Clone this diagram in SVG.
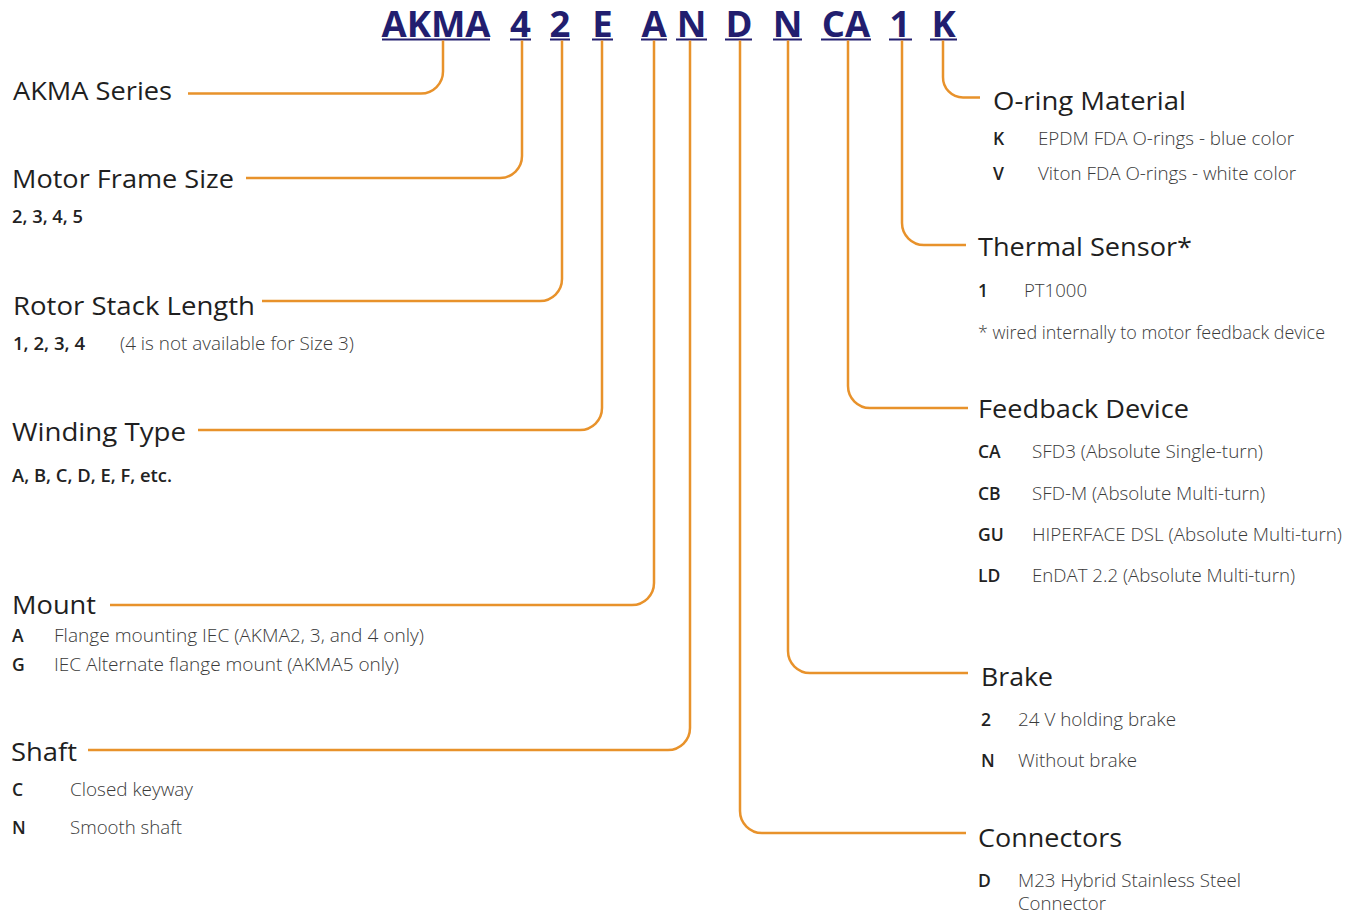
<svg xmlns="http://www.w3.org/2000/svg" width="1359" height="916" viewBox="0 0 1359 916">
<style>
text{font-family:"Open Sans","Noto Sans","Liberation Sans",sans-serif;}
.hdr{font-size:36.5px;font-weight:700;fill:#221e6f;text-anchor:middle;}
.ul{fill:#221e6f;}
.h{font-size:25px;font-weight:500;fill:#1f1f1f;}
.c{font-size:17.5px;font-weight:600;fill:#222;}
.d{font-size:17.5px;font-weight:300;fill:#3a3a3a;}
.ln{fill:none;stroke:#E8922B;stroke-width:2.5;}
</style>
<rect width="1359" height="916" fill="#fff"/>
<g id="header">
<text class="hdr" x="436" y="36.5">AKMA</text>
<text class="hdr" x="520.5" y="36.5">4</text>
<text class="hdr" x="560" y="36.5">2</text>
<text class="hdr" x="602.5" y="36.5">E</text>
<text class="hdr" x="654" y="36.5">A</text>
<text class="hdr" x="691.5" y="36.5">N</text>
<text class="hdr" x="739" y="36.5">D</text>
<text class="hdr" x="787.5" y="36.5">N</text>
<text class="hdr" x="846" y="36.5">CA</text>
<text class="hdr" x="900" y="36.5">1</text>
<text class="hdr" x="943.5" y="36.5">K</text>
<rect class="ul" x="382" y="38.5" width="108" height="2"/>
<rect class="ul" x="510" y="38.5" width="21" height="2"/>
<rect class="ul" x="550" y="38.5" width="20" height="2"/>
<rect class="ul" x="592" y="38.5" width="21" height="2"/>
<rect class="ul" x="641" y="38.5" width="26" height="2"/>
<rect class="ul" x="676" y="38.5" width="31" height="2"/>
<rect class="ul" x="725" y="38.5" width="27" height="2"/>
<rect class="ul" x="773" y="38.5" width="29" height="2"/>
<rect class="ul" x="821" y="38.5" width="50" height="2"/>
<rect class="ul" x="889" y="38.5" width="23" height="2"/>
<rect class="ul" x="930" y="38.5" width="27" height="2"/>
</g>
<g id="connectors">
<path class="ln" d="M188,93.5 H421 A22,22 0 0 0 443,71.5 V40.5"/>
<path class="ln" d="M246,178 H500 A22,22 0 0 0 522,156 V40.5"/>
<path class="ln" d="M262,301 H540 A22,22 0 0 0 562,279 V40.5"/>
<path class="ln" d="M198,430 H580 A22,22 0 0 0 602,408 V40.5"/>
<path class="ln" d="M110,605 H632 A22,22 0 0 0 654,583 V40.5"/>
<path class="ln" d="M88,750 H668 A22,22 0 0 0 690,728 V40.5"/>
<path class="ln" d="M740,40.5 V811 A22,22 0 0 0 762,833 H966"/>
<path class="ln" d="M788,40.5 V651 A22,22 0 0 0 810,673 H968"/>
<path class="ln" d="M848,40.5 V386 A22,22 0 0 0 870,408 H968"/>
<path class="ln" d="M902,40.5 V223 A22,22 0 0 0 924,245 H966"/>
<path class="ln" d="M943,40.5 V77 A20,20 0 0 0 963,97.5 H980"/>
</g>
<g id="akma-series">
<text class="h" x="13" y="100" textLength="159" lengthAdjust="spacingAndGlyphs">AKMA Series</text>
</g>
<g id="motor-frame-size">
<text class="h" x="12" y="188" textLength="222" lengthAdjust="spacingAndGlyphs">Motor Frame Size</text>
<text class="c" x="12" y="223" textLength="71" lengthAdjust="spacingAndGlyphs">2, 3, 4, 5</text>
</g>
<g id="rotor-stack-length">
<text class="h" x="13" y="315" textLength="242" lengthAdjust="spacingAndGlyphs">Rotor Stack Length</text>
<text class="c" x="13" y="350" textLength="72" lengthAdjust="spacingAndGlyphs">1, 2, 3, 4</text>
<text class="d" x="120" y="350" textLength="234" lengthAdjust="spacingAndGlyphs">(4 is not available for Size 3)</text>
</g>
<g id="winding-type">
<text class="h" x="12" y="441" textLength="174" lengthAdjust="spacingAndGlyphs">Winding Type</text>
<text class="c" x="12" y="482" textLength="160" lengthAdjust="spacingAndGlyphs">A, B, C, D, E, F, etc.</text>
</g>
<g id="mount">
<text class="h" x="12" y="614" textLength="84" lengthAdjust="spacingAndGlyphs">Mount</text>
<text class="c" x="12" y="642">A</text>
<text class="d" x="54" y="642" textLength="370" lengthAdjust="spacingAndGlyphs">Flange mounting IEC (AKMA2, 3, and 4 only)</text>
<text class="c" x="12" y="671">G</text>
<text class="d" x="54" y="671" textLength="345" lengthAdjust="spacingAndGlyphs">IEC Alternate flange mount (AKMA5 only)</text>
</g>
<g id="shaft">
<text class="h" x="11" y="761" textLength="66" lengthAdjust="spacingAndGlyphs">Shaft</text>
<text class="c" x="12" y="796">C</text>
<text class="d" x="70" y="796" textLength="123" lengthAdjust="spacingAndGlyphs">Closed keyway</text>
<text class="c" x="12" y="834">N</text>
<text class="d" x="70" y="834" textLength="112" lengthAdjust="spacingAndGlyphs">Smooth shaft</text>
</g>
<g id="o-ring-material">
<text class="h" x="993" y="110" textLength="193" lengthAdjust="spacingAndGlyphs">O-ring Material</text>
<text class="c" x="993" y="145">K</text>
<text class="d" x="1038" y="145" textLength="256" lengthAdjust="spacingAndGlyphs">EPDM FDA O-rings - blue color</text>
<text class="c" x="993" y="180">V</text>
<text class="d" x="1038" y="180" textLength="258" lengthAdjust="spacingAndGlyphs">Viton FDA O-rings - white color</text>
</g>
<g id="thermal-sensor">
<text class="h" x="978" y="256" textLength="214" lengthAdjust="spacingAndGlyphs">Thermal Sensor*</text>
<text class="c" x="978" y="297">1</text>
<text class="d" x="1024" y="297" textLength="63" lengthAdjust="spacingAndGlyphs">PT1000</text>
<text class="d" x="978" y="339" textLength="347" lengthAdjust="spacingAndGlyphs">* wired internally to motor feedback device</text>
</g>
<g id="feedback-device">
<text class="h" x="978" y="418" textLength="211" lengthAdjust="spacingAndGlyphs">Feedback Device</text>
<text class="c" x="978" y="458">CA</text>
<text class="d" x="1032" y="458" textLength="231" lengthAdjust="spacingAndGlyphs">SFD3 (Absolute Single-turn)</text>
<text class="c" x="978" y="500">CB</text>
<text class="d" x="1032" y="500" textLength="233" lengthAdjust="spacingAndGlyphs">SFD-M (Absolute Multi-turn)</text>
<text class="c" x="978" y="541">GU</text>
<text class="d" x="1032" y="541" textLength="310" lengthAdjust="spacingAndGlyphs">HIPERFACE DSL (Absolute Multi-turn)</text>
<text class="c" x="978" y="582">LD</text>
<text class="d" x="1032" y="582" textLength="263" lengthAdjust="spacingAndGlyphs">EnDAT 2.2 (Absolute Multi-turn)</text>
</g>
<g id="brake">
<text class="h" x="981" y="686" textLength="72" lengthAdjust="spacingAndGlyphs">Brake</text>
<text class="c" x="981" y="726">2</text>
<text class="d" x="1018" y="726" textLength="158" lengthAdjust="spacingAndGlyphs">24 V holding brake</text>
<text class="c" x="981" y="767">N</text>
<text class="d" x="1018" y="767" textLength="119" lengthAdjust="spacingAndGlyphs">Without brake</text>
</g>
<g id="connectors-option">
<text class="h" x="978" y="847" textLength="144" lengthAdjust="spacingAndGlyphs">Connectors</text>
<text class="c" x="978" y="887">D</text>
<text class="d" x="1018" y="887" textLength="223" lengthAdjust="spacingAndGlyphs">M23 Hybrid Stainless Steel</text>
<text class="d" x="1018" y="910" textLength="88" lengthAdjust="spacingAndGlyphs">Connector</text>
</g>
</svg>
